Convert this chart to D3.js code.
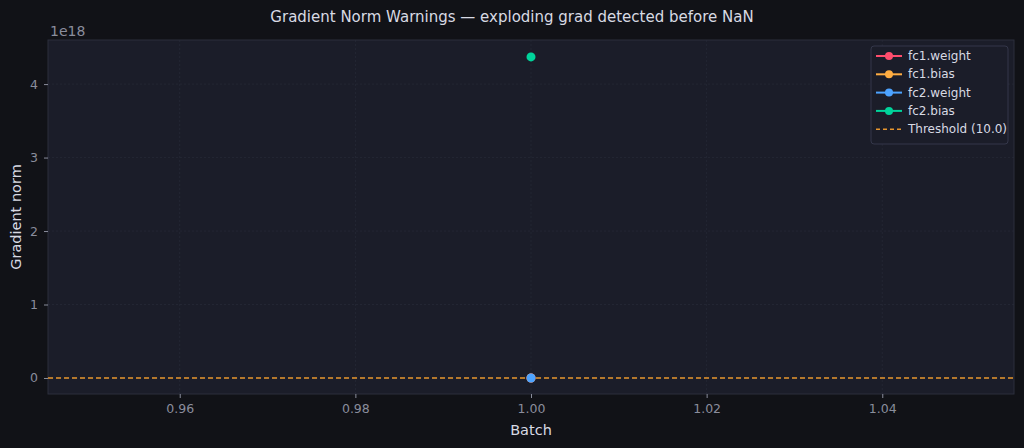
<!DOCTYPE html>
<html><head><meta charset="utf-8">
<script src="https://cdn.jsdelivr.net/npm/d3@7"></script>
<style>body{margin:0;background:#111217;font-family:"DejaVu Sans",sans-serif;}</style>
</head><body><svg id="chart" width="1024" height="448"></svg>
<script>
var batches = [1];
var seriesNames = ["fc1.weight", "fc1.bias", "fc2.weight", "fc2.bias"];
var seriesColors = ["#ff4d6d", "#ffad42", "#4da3ff", "#00d49b"];
var seriesValues = [[2.1], [0.9], [3.4], [4.37e18]];
var threshold = 10.0;
var xTicks = [0.96, 0.98, 1.00, 1.02, 1.04];
var yTicks = [0, 1e18, 2e18, 3e18, 4e18];

var svg = d3.select("#chart");
var m = {l: 48, t: 40, r: 10, b: 54};
var w = 1024 - m.l - m.r, h = 448 - m.t - m.b;
var x = d3.scaleLinear().domain([0.945, 1.055]).range([0, w]);
var y = d3.scaleLinear().domain([-0.218e18, 4.6e18]).range([h, 0]);

svg.append("rect").attr("width", 1024).attr("height", 448).attr("fill", "#111217");
var g = svg.append("g").attr("transform", "translate(" + m.l + "," + m.t + ")");
g.append("rect").attr("width", w).attr("height", h).attr("fill", "#1b1d29").attr("stroke", "#2c2f3d");

// grid
g.selectAll(".gx").data(xTicks).enter().append("line")
	.attr("x1", d => x(d)).attr("x2", d => x(d)).attr("y1", 0).attr("y2", h)
	.attr("stroke", "#2a2d3a").attr("stroke-dasharray", "2,2").attr("stroke-width", 0.6);
g.selectAll(".gy").data(yTicks).enter().append("line")
	.attr("y1", d => y(d)).attr("y2", d => y(d)).attr("x1", 0).attr("x2", w)
	.attr("stroke", "#2a2d3a").attr("stroke-dasharray", "2,2").attr("stroke-width", 0.6);

var xAxis = g.append("g").attr("transform", "translate(0," + h + ")")
	.call(d3.axisBottom(x).tickValues(xTicks).tickFormat(d3.format(".2f")).tickSize(4).tickPadding(6));
var yAxis = g.append("g")
	.call(d3.axisLeft(y).tickValues(yTicks).tickFormat(d => d / 1e18).tickSize(4).tickPadding(6));
[xAxis, yAxis].forEach(function(a) {
	a.select(".domain").remove();
	a.selectAll("line").attr("stroke", "#8a8d9c");
	a.selectAll("text").attr("fill", "#8a8d9c").attr("font-size", 12.5).attr("font-family", "DejaVu Sans");
});
svg.append("text").attr("x", 50).attr("y", 36).attr("fill", "#8a8d9c").attr("font-size", 14).text("1e18");

// threshold
g.append("line").attr("x1", 0).attr("x2", w).attr("y1", y(threshold)).attr("y2", y(threshold))
	.attr("stroke", "#e8962e").attr("stroke-width", 1.5).attr("stroke-dasharray", "5,3");

// points
seriesNames.forEach(function(name, i) {
	g.selectAll(".p" + i).data(seriesValues[i]).enter().append("circle")
		.attr("cx", (d, j) => x(batches[j])).attr("cy", d => y(d)).attr("r", 4.5)
		.attr("fill", seriesColors[i]);
});

// labels
svg.append("text").attr("x", 512).attr("y", 22).attr("text-anchor", "middle").attr("fill", "#d8dae3")
	.attr("font-size", 15).text("Gradient Norm Warnings — exploding grad detected before NaN");
svg.append("text").attr("x", m.l + w / 2).attr("y", 435).attr("text-anchor", "middle").attr("fill", "#d8dae3")
	.attr("font-size", 14.5).text("Batch");
svg.append("text").attr("transform", "translate(21," + (m.t + h / 2) + ") rotate(-90)").attr("text-anchor", "middle")
	.attr("fill", "#d8dae3").attr("font-size", 14.5).text("Gradient norm");

// legend
var lg = svg.append("g").attr("transform", "translate(871,46)");
lg.append("rect").attr("width", 137).attr("height", 98).attr("rx", 3).attr("fill", "#1b1d29").attr("stroke", "#34374a");
var items = seriesNames.map((n, i) => ({name: n, color: seriesColors[i], dash: false}))
	.concat([{name: "Threshold (10.0)", color: "#e8962e", dash: true}]);
items.forEach(function(it, i) {
	var yy = 10 + i * 18.3;
	lg.append("line").attr("x1", 5).attr("x2", 31).attr("y1", yy).attr("y2", yy).attr("stroke", it.color)
		.attr("stroke-width", it.dash ? 1.5 : 2).attr("stroke-dasharray", it.dash ? "4,3" : null);
	if (!it.dash) lg.append("circle").attr("cx", 18).attr("cy", yy).attr("r", 4).attr("fill", it.color);
	lg.append("text").attr("x", 37).attr("y", yy + 4).attr("fill", "#d8dae3").attr("font-size", 12).text(it.name);
});
</script></body></html>
